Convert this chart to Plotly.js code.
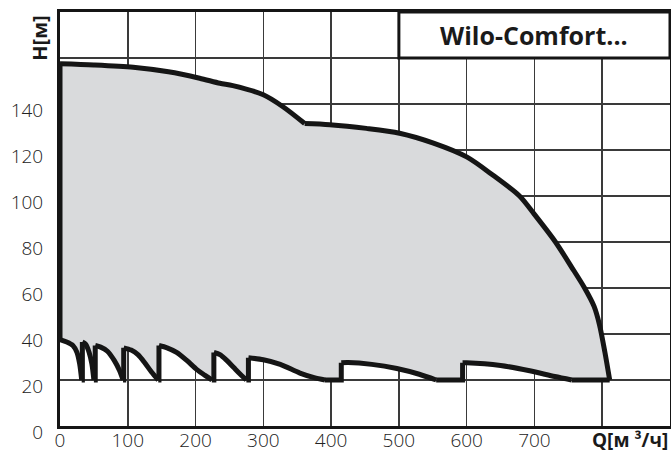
<!DOCTYPE html>
<html><head><meta charset="utf-8">
<script src="https://cdn.plot.ly/plotly-3.0.1.min.js"></script>
<style>html,body{margin:0;padding:0;background:#fff}#chart{width:671px;height:453px}</style>
</head><body><div id="chart"></div>
<script>
// Axis ticks
const xTickVals = [0, 100, 200, 300, 400, 500, 600, 700, 800];
const xTickText = ['0', '100', '200', '300', '400', '500', '600', '700', ' '];
const yTickVals = [0, 20, 40, 60, 80, 100, 120, 140, 160];
const yTickText = ['0', '20', '40', '60', '80', '100', '120', '140', ' '];

// Minimum head of the operating range (m)
const hMin = 20;

// Upper envelope Q [m3/h], H [m]; first part up to the kink, second part after it
const top1Q = [0, 50, 108, 160, 206, 236, 255, 300, 329, 361];
const top1H = [157.5, 157, 156, 154, 151.2, 149, 148, 144, 138.8, 131.5];
const top2Q = [361, 398, 452, 501, 551, 600, 639, 678, 700, 731, 755, 774, 788, 796, 804, 811];
const top2H = [131.5, 131, 129.4, 127.3, 123, 117, 109, 100, 92, 80, 69, 60, 52, 44, 32, 20];

// Lower staged curves (one per pump stage)
const c1Q = [0, 10, 19, 25, 29, 32];
const c1H = [37.5, 36.5, 35, 32, 27, 20];
const c2Q = [33, 38, 43, 47, 50];
const c2H = [36.5, 35.5, 32, 27, 20];
const c3Q = [52, 60, 70, 80, 88, 93];
const c3H = [35, 34.3, 32.5, 28.5, 24, 20];
const c4Q = [94, 105, 115, 125, 135, 145];
const c4H = [34, 33, 31, 27.5, 23.5, 20];
const c5Q = [146, 158, 172, 187, 202, 214, 224];
const c5H = [35, 34, 32, 28.5, 24.5, 22, 20];
const c6Q = [227, 236, 246, 256, 266, 275];
const c6H = [32, 31, 28.5, 25.5, 22.5, 20];
const c7Q = [278, 300, 325, 354, 375, 391];
const c7H = [29.7, 28.8, 26.8, 23, 21, 20];
const c8Q = [415, 425, 460, 497, 530, 555];
const c8H = [27.5, 27.6, 26.8, 25, 22.5, 20];
const c9Q = [594, 600, 650, 693, 730, 755];
const c9H = [27.5, 27.5, 26.3, 24, 21.5, 20];

const stagesQ = [c1Q, c2Q, c3Q, c4Q, c5Q, c6Q, c7Q, c8Q, c9Q];
const stagesH = [c1H, c2H, c3H, c4H, c5H, c6H, c7H, c8H, c9H];
const topQ = top1Q.concat(top2Q.slice(1));
const topH = top1H.concat(top2H.slice(1));

// Closed outline for the grey fill
const px = [], py = [];
px.push(c1Q[0]); py.push(c1H[0]);
for (let i = 0; i < topQ.length; i++) { px.push(topQ[i]); py.push(topH[i]); }
for (let s = stagesQ.length - 1; s >= 0; s--) {
  const q = stagesQ[s], h = stagesH[s];
  for (let i = q.length - 1; i >= 0; i--) { px.push(q[i]); py.push(h[i]); }
  if (s > 0) { px.push(q[0]); py.push(hMin); }
}

const LINE = '#151515', LW = 5;
const traces = [];
traces.push({x: px, y: py, type: 'scatter', mode: 'lines', fill: 'toself', fillcolor: '#d9dadc',
  line: {color: 'rgba(0,0,0,0)', width: 0}, hoverinfo: 'skip', showlegend: false});

// straight parts: left edge, verticals and flat runs at hMin
const sx = [c1Q[0], top1Q[0], null], sy = [c1H[0], top1H[0], null];
sx.push(top2Q[top2Q.length - 1], c9Q[c9Q.length - 1], null);
sy.push(top2H[top2H.length - 1], hMin, null);
for (let s = 1; s < stagesQ.length; s++) {
  const prev = stagesQ[s - 1];
  sx.push(prev[prev.length - 1], stagesQ[s][0], stagesQ[s][0], null);
  sy.push(hMin, hMin, stagesH[s][0], null);
}
traces.push({x: sx, y: sy, type: 'scatter', mode: 'lines', line: {color: LINE, width: LW},
  hoverinfo: 'skip', showlegend: false});

// smooth curves
const curves = [[top1Q, top1H], [top2Q, top2H]];
for (let s = 0; s < stagesQ.length; s++) curves.push([stagesQ[s], stagesH[s]]);
curves.forEach(([q, h]) => traces.push({x: q, y: h, type: 'scatter', mode: 'lines',
  line: {color: LINE, width: LW, shape: 'spline', smoothing: 0.8}, hoverinfo: 'skip', showlegend: false}));

const tickFont = {family: 'Open Sans, sans-serif', size: 19, color: '#222', weight: 300};

const layout = {
  width: 671, height: 453,
  margin: {l: 60, r: 1, t: 12, b: 27, pad: 0},
  paper_bgcolor: '#fff', plot_bgcolor: '#fff',
  showlegend: false,
  xaxis: {
    range: [0, 900], tickvals: xTickVals, ticktext: xTickText,
    showgrid: true, gridcolor: '#3a3a3a', gridwidth: 1.5,
    zeroline: false, showline: true, mirror: true, linecolor: LINE, linewidth: 3,
    ticks: '', tickfont: tickFont, ticklabelstandoff: -5, fixedrange: true
  },
  yaxis: {
    range: [0, 180], tickvals: yTickVals, ticktext: yTickText,
    showgrid: true, gridcolor: '#3a3a3a', gridwidth: 1.5,
    zeroline: false, showline: true, mirror: true, linecolor: LINE, linewidth: 3,
    ticks: '', tickfont: tickFont, ticklabelshift: 6, ticklabelstandoff: 10, fixedrange: true
  },
  shapes: [{
    type: 'rect', xref: 'x', yref: 'y', x0: 500, x1: 900, y0: 160, y1: 180,
    fillcolor: '#fff', line: {color: LINE, width: 3}, layer: 'above'
  }],
  annotations: [
    {xref: 'x', yref: 'y', x: 700, y: 170, text: 'Wilo-Comfort...', showarrow: false,
     xanchor: 'center', yanchor: 'middle', font: {family: 'Open Sans, sans-serif', size: 25, color: '#1a1a1a', weight: 700}},
    {xref: 'paper', yref: 'paper', x: -0.035, y: 0.937, text: 'H[м]', textangle: -90, showarrow: false,
     xanchor: 'center', yanchor: 'middle', font: {family: 'Open Sans, sans-serif', size: 20, color: '#1a1a1a', weight: 700}},
    {xref: 'paper', yref: 'paper', x: 1, y: 0, text: 'Q[м ³/ч]', showarrow: false,
     xanchor: 'right', yanchor: 'top', yshift: 1, font: {family: 'Open Sans, sans-serif', size: 19, color: '#1a1a1a', weight: 700}}
  ]
};

Plotly.newPlot('chart', traces, layout, {displayModeBar: false, staticPlot: true});
</script>
</body></html>
